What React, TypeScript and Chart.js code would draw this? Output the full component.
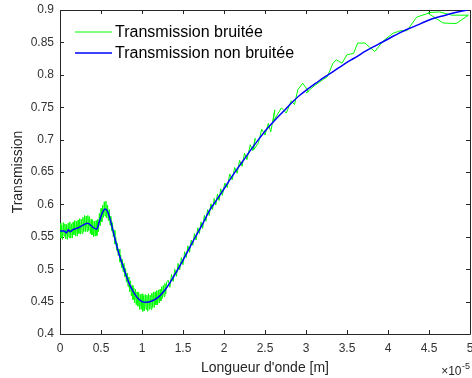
import React, { useEffect, useRef } from "react";
import { Chart, registerables } from "chart.js";

Chart.register(...registerables);

// Wavelength values are expressed in units of 1e-5 m (see the axis exponent).
const AXIS_EXPONENT = "-5";

// Smooth (noise-free) transmission curve
const wavelengthSmooth = [
  0, 0.05, 0.08, 0.1, 0.12, 0.16, 0.2, 0.24, 0.28, 0.34,
  0.38, 0.42, 0.45, 0.48, 0.52, 0.55, 0.58, 0.62, 0.67, 0.72,
  0.77, 0.85, 0.93, 1.0, 1.05, 1.12, 1.2, 1.28, 1.34, 1.42,
  1.5, 1.58, 1.66, 1.74, 1.82, 1.9, 1.98, 2.06, 2.14, 2.22,
  2.32, 2.42, 2.52, 2.62, 2.72, 2.82, 2.92, 3.02, 3.12, 3.22,
  3.33, 3.45, 3.55, 3.62, 3.72, 3.82, 3.94, 4.04, 4.13, 4.25,
  4.4, 4.55, 4.7, 4.85, 5.0,
];
const transmissionSmooth = [
  0.559, 0.559, 0.556, 0.561, 0.558, 0.561, 0.563, 0.565, 0.568, 0.571,
  0.567, 0.563, 0.562, 0.574, 0.588, 0.593, 0.589, 0.573, 0.547, 0.523,
  0.504, 0.476, 0.458, 0.45, 0.449, 0.451, 0.457, 0.468, 0.479, 0.496,
  0.514, 0.533, 0.552, 0.57, 0.59, 0.605, 0.62, 0.636, 0.651, 0.665,
  0.683, 0.7, 0.716, 0.73, 0.743, 0.756, 0.768, 0.778, 0.787, 0.796,
  0.805, 0.815, 0.823, 0.828, 0.836, 0.843, 0.851, 0.858, 0.864, 0.871,
  0.879, 0.887, 0.892, 0.897, 0.901,
];

// Noisy transmission measurement (densely sampled at short wavelengths)
const wavelengthNoisy = [
  0, 0.01, 0.02, 0.03, 0.04, 0.05, 0.06, 0.07, 0.08, 0.09,
  0.1, 0.11, 0.12, 0.13, 0.14, 0.15, 0.16, 0.17, 0.18, 0.19,
  0.2, 0.21, 0.22, 0.23, 0.24, 0.25, 0.26, 0.27, 0.28, 0.29,
  0.3, 0.31, 0.32, 0.33, 0.34, 0.35, 0.36, 0.37, 0.38, 0.39,
  0.4, 0.41, 0.42, 0.43, 0.44, 0.45, 0.46, 0.47, 0.48, 0.49,
  0.5, 0.51, 0.52, 0.53, 0.54, 0.55, 0.56, 0.57, 0.58, 0.59,
  0.6, 0.61, 0.62, 0.63, 0.64, 0.65, 0.66, 0.67, 0.68, 0.69,
  0.7, 0.71, 0.72, 0.73, 0.74, 0.75, 0.76, 0.77, 0.78, 0.79,
  0.8, 0.81, 0.82, 0.83, 0.84, 0.85, 0.86, 0.87, 0.88, 0.89,
  0.9, 0.91, 0.92, 0.93, 0.94, 0.95, 0.96, 0.97, 0.98, 0.99,
  1.0, 1.01, 1.02, 1.03, 1.04, 1.05, 1.06, 1.07, 1.08, 1.09,
  1.1, 1.11, 1.12, 1.13, 1.14, 1.15, 1.16, 1.17, 1.18, 1.19,
  1.2, 1.21, 1.22, 1.23, 1.24, 1.25, 1.26, 1.27, 1.28, 1.29,
  1.3,
  1.32, 1.34, 1.36, 1.38, 1.4, 1.42, 1.44, 1.46, 1.48, 1.5,
  1.52, 1.54, 1.56, 1.58, 1.6, 1.62, 1.64, 1.66, 1.68, 1.7,
  1.72, 1.74, 1.76, 1.78, 1.8, 1.82, 1.84, 1.86, 1.88, 1.9,
  1.92, 1.94, 1.96, 1.98,
  2.01, 2.04, 2.07, 2.1, 2.13, 2.16, 2.19, 2.22, 2.25, 2.28,
  2.32, 2.35, 2.38, 2.36, 2.42, 2.46, 2.5, 2.54, 2.57, 2.62,
  2.6, 2.7, 2.76, 2.82, 2.86, 2.9, 2.96, 3.03, 3.0, 3.1,
  3.2, 3.26, 3.33, 3.37, 3.44, 3.5, 3.58, 3.63, 3.72, 3.78,
  3.84, 3.94, 4.06, 4.15, 4.23, 4.35, 4.49, 4.67, 4.83, 4.98,
  4.78, 4.63, 4.49,
];
const transmissionNoisy = [
  0.571, 0.548, 0.568, 0.546, 0.572, 0.551, 0.57, 0.547, 0.569, 0.546,
  0.571, 0.549, 0.573, 0.548, 0.57, 0.548, 0.573, 0.553, 0.575, 0.551,
  0.574, 0.551, 0.576, 0.555, 0.578, 0.554, 0.577, 0.555, 0.58, 0.558,
  0.583, 0.558, 0.582, 0.558, 0.583, 0.56, 0.581, 0.555, 0.577, 0.553,
  0.575, 0.55, 0.574, 0.551, 0.575, 0.552, 0.577, 0.558, 0.586, 0.567,
  0.594, 0.573, 0.599, 0.58, 0.604, 0.582, 0.605, 0.579, 0.599, 0.575,
  0.592, 0.568, 0.582, 0.559, 0.572, 0.55, 0.56, 0.539, 0.549, 0.529,
  0.54, 0.521, 0.531, 0.511, 0.522, 0.502, 0.515, 0.496, 0.509, 0.488,
  0.501, 0.48, 0.494, 0.473, 0.488, 0.465, 0.482, 0.459, 0.475, 0.453,
  0.471, 0.448, 0.469, 0.445, 0.465, 0.443, 0.464, 0.438, 0.461, 0.438,
  0.462, 0.435, 0.459, 0.436, 0.461, 0.438, 0.46, 0.435, 0.462, 0.438,
  0.46, 0.438, 0.463, 0.441, 0.465, 0.441, 0.465, 0.445, 0.467, 0.445,
  0.468, 0.448, 0.469, 0.451, 0.473, 0.455, 0.475, 0.458, 0.478, 0.462,
  0.48,
  0.483, 0.472, 0.492, 0.481, 0.5, 0.489, 0.509, 0.499, 0.518, 0.507,
  0.527, 0.518, 0.536, 0.526, 0.545, 0.537, 0.555, 0.545, 0.564, 0.555,
  0.573, 0.563, 0.583, 0.574, 0.592, 0.583, 0.601, 0.592, 0.609, 0.599,
  0.616, 0.606, 0.624, 0.614,
  0.633, 0.626, 0.647, 0.638, 0.657, 0.648, 0.668, 0.659, 0.679, 0.669,
  0.692, 0.683, 0.702, 0.684, 0.695, 0.716, 0.707, 0.725, 0.712, 0.746,
  0.728, 0.749, 0.741, 0.76, 0.754, 0.777, 0.787, 0.774, 0.772, 0.783,
  0.792, 0.797, 0.818, 0.823, 0.818, 0.831, 0.833, 0.849, 0.849, 0.842,
  0.836, 0.852, 0.864, 0.868, 0.868, 0.889, 0.895, 0.88, 0.879, 0.892,
  0.892, 0.897, 0.896,
];

const xTickValues = [0, 0.5, 1, 1.5, 2, 2.5, 3, 3.5, 4, 4.5, 5];
const yTickValues = [0.4, 0.45, 0.5, 0.55, 0.6, 0.65, 0.7, 0.75, 0.8, 0.85, 0.9];

const seriesLabels = ["Transmission bruitée", "Transmission non bruitée"];
const xTitle = "Longueur d'onde [m]";
const yTitle = "Transmission";

const FONT = "'Liberation Sans', Arial, Helvetica, sans-serif";
const AXIS_COLOR = "#262626";

const toPoints = (xs: number[], ys: number[]) => xs.map((x, i) => ({ x, y: ys[i] }));

// Box around the plot with inward tick marks on all four sides
const axesBoxPlugin = {
  id: "axesBox",
  beforeDatasetsDraw(chart: any) {
    const { ctx, chartArea, scales } = chart;
    const { left, right, top, bottom } = chartArea;
    const tl = 4;
    ctx.save();
    ctx.strokeStyle = AXIS_COLOR;
    ctx.lineWidth = 1;
    ctx.beginPath();
    ctx.rect(Math.round(left) + 0.5, Math.round(top) + 0.5, Math.round(right - left), Math.round(bottom - top));
    for (const v of xTickValues) {
      const px = Math.round(scales.x.getPixelForValue(v)) + 0.5;
      ctx.moveTo(px, bottom);
      ctx.lineTo(px, bottom - tl);
      ctx.moveTo(px, top);
      ctx.lineTo(px, top + tl);
    }
    for (const v of yTickValues) {
      const py = Math.round(scales.y.getPixelForValue(v)) + 0.5;
      ctx.moveTo(left, py);
      ctx.lineTo(left + tl, py);
      ctx.moveTo(right, py);
      ctx.lineTo(right - tl, py);
    }
    ctx.stroke();
    ctx.restore();
  },
};

// Axis titles, exponent label and the in-plot legend
const overlayPlugin = {
  id: "overlay",
  afterDraw(chart: any) {
    const { ctx, chartArea } = chart;
    const { left, right, top, bottom } = chartArea;
    ctx.save();
    ctx.fillStyle = AXIS_COLOR;
    ctx.font = `14px ${FONT}`;
    ctx.textAlign = "center";
    ctx.textBaseline = "middle";
    ctx.fillText(xTitle, (left + right) / 2, 368);

    ctx.save();
    ctx.translate(18, (top + bottom) / 2);
    ctx.rotate(-Math.PI / 2);
    ctx.fillText(yTitle, 0, 0);
    ctx.restore();

    // ×10^-5 exponent under the right end of the x axis
    ctx.font = `9px ${FONT}`;
    ctx.textAlign = "left";
    const expW = ctx.measureText(AXIS_EXPONENT).width;
    const expX = right - expW;
    ctx.fillText(AXIS_EXPONENT, expX, 367);
    ctx.font = `12px ${FONT}`;
    ctx.textAlign = "right";
    ctx.fillText("\u00d710", expX - 0.5, 372);

    // legend
    const ds = chart.data.datasets;
    ctx.font = `16px ${FONT}`;
    ctx.textAlign = "left";
    ctx.fillStyle = "#000";
    ds.forEach((d: any, i: number) => {
      const y = 32 + i * 21;
      ctx.strokeStyle = d.borderColor;
      ctx.lineWidth = d.borderWidth;
      ctx.beginPath();
      ctx.moveTo(75, y);
      ctx.lineTo(112, y);
      ctx.stroke();
      ctx.fillText(d.label, 115, y + 0.5);
    });
    ctx.restore();
  },
};

export default function App() {
  const canvasRef = useRef<HTMLCanvasElement | null>(null);

  useEffect(() => {
    document.body.style.margin = "0";
    const canvas = canvasRef.current;
    if (!canvas) return;
    const chart = new Chart(canvas, {
      type: "line",
      data: {
        datasets: [
          {
            label: seriesLabels[0],
            data: toPoints(wavelengthNoisy, transmissionNoisy),
            borderColor: "#00ff00",
            borderWidth: 1,
            pointRadius: 0,
            tension: 0,
            fill: false,
            order: 2,
          },
          {
            label: seriesLabels[1],
            data: toPoints(wavelengthSmooth, transmissionSmooth),
            borderColor: "#0000ff",
            borderWidth: 1.5,
            pointRadius: 0,
            cubicInterpolationMode: "monotone",
            fill: false,
            order: 1,
          },
        ],
      },
      options: {
        animation: false,
        responsive: false,
        devicePixelRatio: 1,
        layout: { padding: { top: 10, right: 2, left: 0, bottom: 0 } },
        plugins: { legend: { display: false }, tooltip: { enabled: false } },
        scales: {
          x: {
            type: "linear",
            min: 0,
            max: 5,
            grid: { display: false, drawTicks: false },
            border: { display: false },
            afterBuildTicks: (s: any) => {
              s.ticks = xTickValues.map((value) => ({ value }));
            },
            afterFit: (s: any) => {
              s.height = 44;
              s.paddingLeft = 0;
              s.paddingRight = 0;
            },
            ticks: {
              autoSkip: false,
              maxRotation: 0,
              padding: 7,
              color: "#333",
              font: { family: FONT, size: 12 },
              callback: (v: any) => String(+Number(v).toFixed(1)),
            },
          },
          y: {
            type: "linear",
            min: 0.4,
            max: 0.9,
            grid: { display: false, drawTicks: false },
            border: { display: false },
            afterBuildTicks: (s: any) => {
              s.ticks = yTickValues.map((value) => ({ value }));
            },
            afterFit: (s: any) => {
              s.width = 60;
              s.paddingTop = 0;
              s.paddingBottom = 0;
            },
            ticks: {
              autoSkip: false,
              padding: 6,
              color: "#333",
              font: { family: FONT, size: 12 },
              callback: (v: any) => String(+Number(v).toFixed(2)),
            },
          },
        },
      },
      plugins: [axesBoxPlugin, overlayPlugin],
    } as any);
    return () => chart.destroy();
  }, []);

  return (
    <div style={{ width: 472, height: 378, background: "#fff" }}>
      <canvas ref={canvasRef} width={472} height={378} style={{ display: "block" }} />
    </div>
  );
}
